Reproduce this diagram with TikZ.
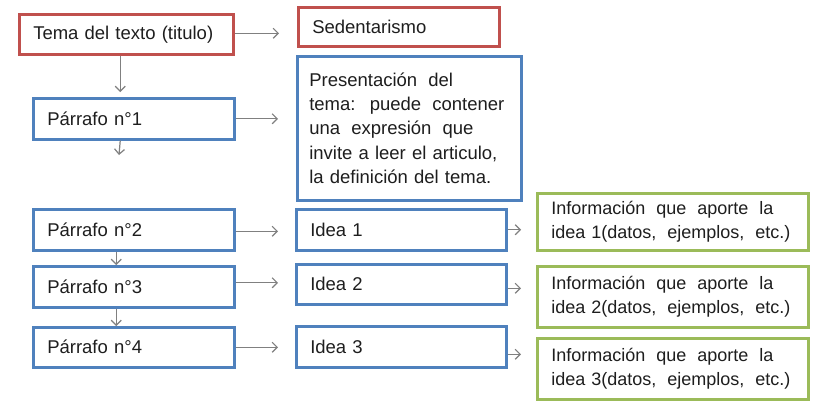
\documentclass[tikz,border=0pt]{standalone}
\usepackage{fontspec}
\setmainfont{Liberation Sans}
\usetikzlibrary{arrows.meta,calc}
\definecolor{cred}{RGB}{192,80,77}
\definecolor{cblue}{RGB}{79,129,189}
\definecolor{cgreen}{RGB}{155,187,89}
\definecolor{ctext}{RGB}{30,30,30}
\definecolor{carrow}{RGB}{128,128,128}
\newcommand{\wsp}{\hspace{5pt} }
\begin{document}
\begin{tikzpicture}[x=1pt,y=-1pt,
  box/.style={draw, fill=white, line width=2.5pt, anchor=north west, inner xsep=14pt, inner ysep=0pt, align=left, text=ctext, font=\fontsize{18.5}{24.3}\selectfont},
  redbox/.style={box, draw=cred},
  bluebox/.style={box, draw=cblue},
  greenbox/.style={box, draw=cgreen, font=\fontsize{18}{23.5}\selectfont},
  conn/.style={draw=carrow, line width=1.2pt, -{Straight Barb[length=5pt,width=10pt]}}
]
\useasboundingbox (0,0) rectangle (816,400);
\fill[white] (0,0) rectangle (816,400);

% left column
\node[redbox, minimum width=214pt, minimum height=40pt, text width=186pt] (tema) at (18,13) {Tema del texto (titulo)};
\node[bluebox, minimum width=201pt, minimum height=41pt, text width=173pt] (p1) at (32,97) {Párrafo n°1};
\node[bluebox, minimum width=201pt, minimum height=41pt, text width=173pt] (p2) at (32,208) {Párrafo n°2};
\node[bluebox, minimum width=201pt, minimum height=41pt, text width=173pt] (p3) at (32,265) {Párrafo n°3};
\node[bluebox, minimum width=201pt, minimum height=40pt, text width=173pt] (p4) at (32,326) {Párrafo n°4};

% middle column
\node[redbox, minimum width=201pt, minimum height=39pt, text width=173pt] (sed) at (297,6) {Sedentarismo};
\node[bluebox, minimum width=224pt, minimum height=144pt, text width=200pt, inner xsep=12pt] (pres) at (296,55)
  {Presentación\wsp del\\
   tema:\wsp puede\wsp contener\\
   una\wsp expresión\wsp que\\
   invite a leer el articulo,\\
   la definición del tema.};
\node[bluebox, minimum width=210pt, minimum height=41pt, text width=182pt] (i1) at (295,208) {Idea 1};
\node[bluebox, minimum width=210pt, minimum height=40pt, text width=182pt] (i2) at (295,263) {Idea 2};
\node[bluebox, minimum width=210pt, minimum height=41pt, text width=182pt] (i3) at (295,325) {Idea 3};

% right column
\node[greenbox, minimum width=271pt, minimum height=57pt, text width=243pt] (g1) at (536,192) {Información\wsp que\wsp aporte\wsp la\\idea 1(datos,\wsp ejemplos,\wsp etc.)};
\node[greenbox, minimum width=271pt, minimum height=61pt, text width=243pt] (g2) at (536,265) {Información\wsp que\wsp aporte\wsp la\\idea 2(datos,\wsp ejemplos,\wsp etc.)};
\node[greenbox, minimum width=271pt, minimum height=61pt, text width=243pt] (g3) at (536,337) {Información\wsp que\wsp aporte\wsp la\\idea 3(datos,\wsp ejemplos,\wsp etc.)};

% connectors
\draw[conn, shorten >=18pt] ([yshift=1pt]tema.east) -- ([yshift=1pt]tema.east -| sed.west);
\draw[conn, shorten >=5pt] ([xshift=-6pt]tema.south) -- ([xshift=-6pt]tema.south |- p1.north);
\draw[conn, shorten >=18pt] (p1.east) -- (p1.east -| pres.west);
\coordinate (p1end) at (119,155);
\draw[conn] ([xshift=-13.5pt]p1.south) -- (p1end);
\draw[conn] ([xshift=-17.5pt]p2.south) -- ([xshift=-17.5pt]p2.south |- p3.north);
\draw[conn] ([xshift=-17.5pt]p3.south) -- ([xshift=-17.5pt]p3.south |- p4.north);
\draw[conn, shorten >=17pt] ([yshift=-1.5pt]p2.east) -- ([yshift=-1.5pt]p2.east -| i1.west);
\draw[conn, shorten >=17pt] ([yshift=4pt]p3.east) -- ([yshift=4pt]p3.east -| i2.west);
\draw[conn, shorten >=17pt] (p4.east) -- (p4.east -| i3.west);
\draw[conn, shorten >=15pt] (i1.east) -- (i1.east -| g1.west);
\draw[conn, shorten >=15pt] ([yshift=-4pt]i2.east) -- ([yshift=-4pt]i2.east -| g2.west);
\draw[conn, shorten >=15pt] ([yshift=-7.5pt]i3.east) -- ([yshift=-7.5pt]i3.east -| g3.west);
\end{tikzpicture}
\end{document}
